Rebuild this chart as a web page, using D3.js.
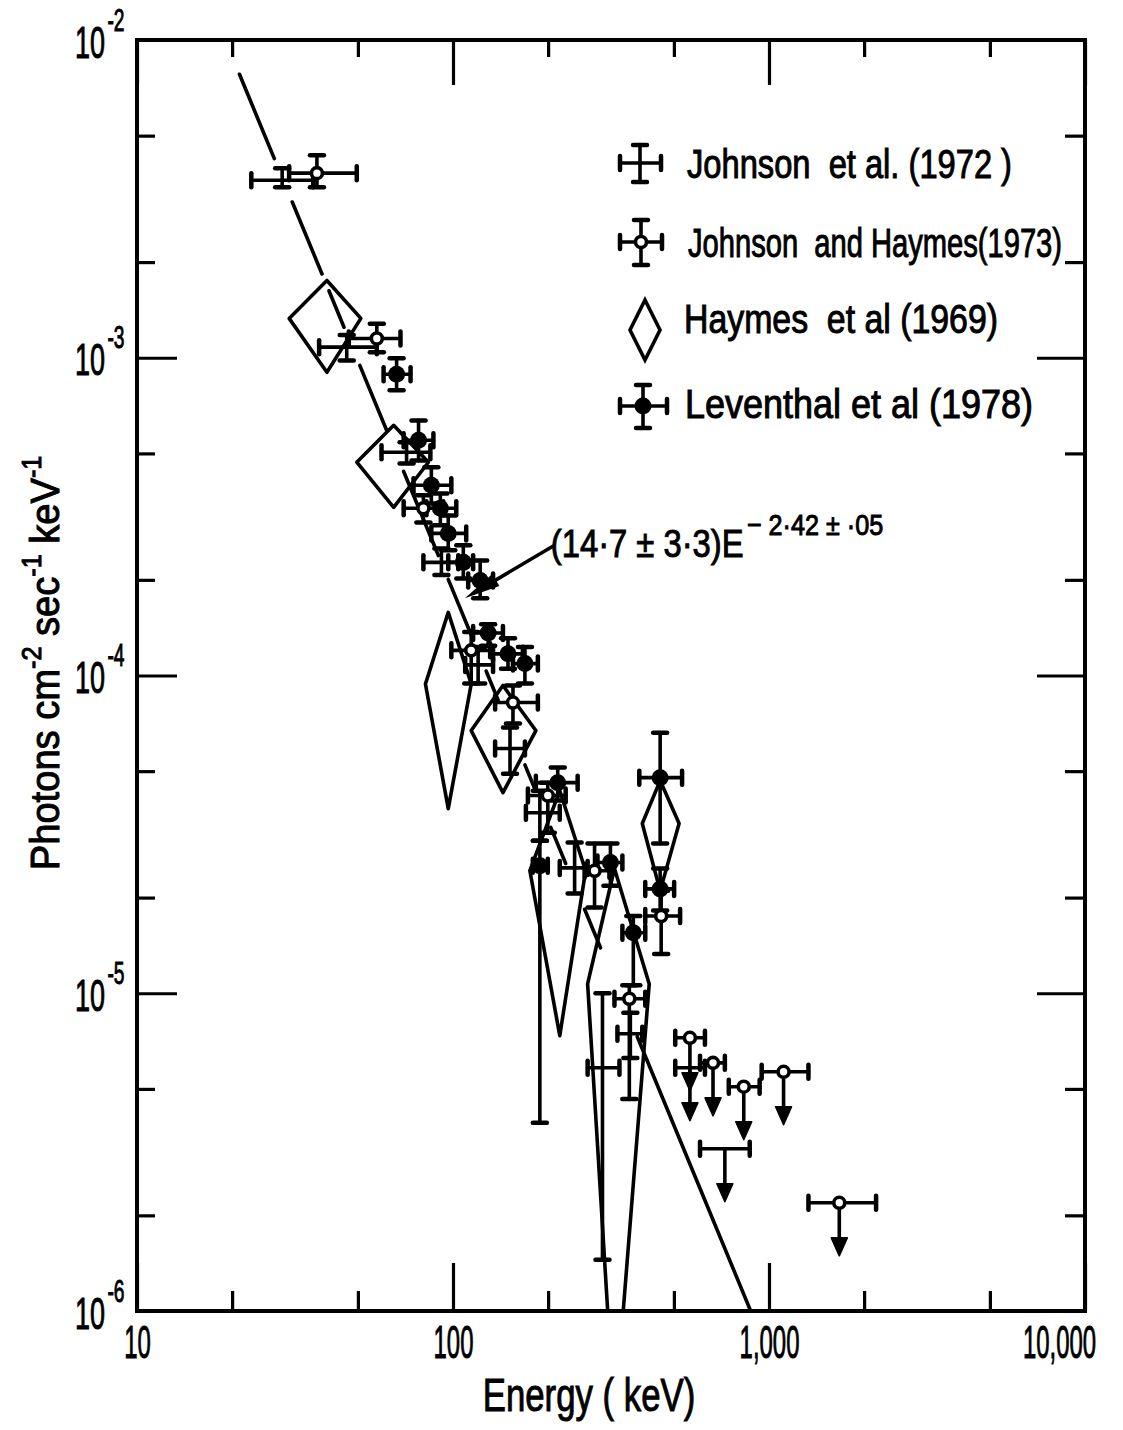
<!DOCTYPE html>
<html>
<head>
<meta charset="utf-8">
<script src="https://cdn.jsdelivr.net/npm/d3@7"></script>
<style>
  body { margin: 0; background: #fff; }
  text { font-family: "Liberation Sans", Arial, sans-serif; fill: #000; stroke: #000; stroke-width: 1px; }
</style>
</head>
<body>
<svg id="chart" width="1123" height="1430"></svg>
<script>
// ---- data (energy in keV, flux in photons cm^-2 s^-1 keV^-1) ----
var johnson72 = [
    {e: 28.8,  eLo: 23.0,  eHi: 36.1,  f: 3.62e-3, fLo: 3.44e-3, fHi: 3.95e-3},
    {e: 46.1,  eLo: 37.7,  eHi: 57.4,  f: 1.08e-3, fLo: 9.8e-4,  fHi: 1.18e-3},
    {e: 71.3,  eLo: 59.4,  eHi: 84.8,  f: 5.04e-4, fLo: 4.65e-4, fHi: 5.42e-4},
    {e: 91.9,  eLo: 80.6,  eHi: 103.9, f: 2.27e-4, fLo: 2.07e-4, fHi: 2.51e-4},
    {e: 120.1, eLo: 109.3, eHi: 133.9, f: 1.08e-4, fLo: 9.44e-5, fHi: 1.23e-4},
    {e: 151.5, eLo: 135.9, eHi: 168.9, f: 5.89e-5, fLo: 4.91e-5, fHi: 6.86e-5},
    {e: 188.3, eLo: 170.1, eHi: 217.7, f: 3.70e-5, fLo: 3.02e-5, fHi: 4.34e-5},
    {e: 242.6, eLo: 217.7, eHi: 266.7, f: 2.48e-5, fLo: 2.06e-5, fHi: 2.98e-5},
    {e: 297.2, eLo: 266.7, eHi: 336.3, f: 5.83e-6, fLo: 1.45e-6, fHi: 1.0e-5},
    {e: 364.1, eLo: 331.4, eHi: 397.2, f: 7.46e-6, fLo: 6.26e-6, fHi: 8.68e-6}
];
var johnson72Limits = [
    {e: 562, eLo: 505, eHi: 627, f: 5.83e-6},
    {e: 725, eLo: 605, eHi: 869, f: 3.24e-6}
];

var johnsonHaymes73 = [
    {e: 37.1,  eLo: 30.3,  eHi: 49.6,  f: 3.81e-3, fLo: 3.44e-3, fHi: 4.34e-3},
    {e: 57.4,  eLo: 46.8,  eHi: 68.2,  f: 1.15e-3, fLo: 1.04e-3, fHi: 1.28e-3},
    {e: 80.6,  eLo: 69.8,  eHi: 93.2,  f: 3.36e-4, fLo: 3.03e-4, fHi: 3.69e-4},
    {e: 114.2, eLo: 98.8,  eHi: 131.1, f: 1.20e-4, fLo: 9.44e-5, fHi: 1.37e-4},
    {e: 154.8, eLo: 135.9, eHi: 185.6, f: 8.22e-5, fLo: 7.06e-5, fHi: 9.30e-5},
    {e: 199.5, eLo: 172.6, eHi: 227.3, f: 4.19e-5, fLo: 3.20e-5, fHi: 4.60e-5},
    {e: 280.5, eLo: 260.9, eHi: 312.6, f: 2.43e-5, fLo: 1.86e-5, fHi: 2.96e-5},
    {e: 361.4, eLo: 324.3, eHi: 405.9, f: 9.61e-6, fLo: 4.65e-6, fHi: 1.06e-5},
    {e: 455.8, eLo: 405.9, eHi: 523.2, f: 1.75e-5, fLo: 1.33e-5, fHi: 2.10e-5}
];
var johnsonHaymes73Limits = [
    {e: 562,  eLo: 505,  eHi: 627,  f: 7.24e-6},
    {e: 665,  eLo: 605,  eHi: 725,  f: 6.04e-6},
    {e: 832,  eLo: 746,  eHi: 934,  f: 5.08e-6},
    {e: 1112, eLo: 948,  eHi: 1333, f: 5.66e-6},
    {e: 1669, eLo: 1333, eHi: 2182, f: 2.19e-6}
];

var haymes69 = [
    {e: 39.9,  eLo: 30.3,  eHi: 51.1,  f: 1.33e-3, fLo: 9.0e-4,  fHi: 1.75e-3},
    {e: 64.9,  eLo: 49.6,  eHi: 83.6,  f: 4.69e-4, fLo: 3.38e-4, fHi: 6.13e-4},
    {e: 96.6,  eLo: 81.8,  eHi: 114.2, f: 9.4e-5,  fLo: 3.81e-5, fHi: 1.58e-4},
    {e: 143.9, eLo: 114.2, eHi: 182.9, f: 6.71e-5, fLo: 4.28e-5, fHi: 9.3e-5},
    {e: 217.7, eLo: 175.1, eHi: 262.8, f: 2.43e-5, fLo: 7.35e-6, fHi: 4.34e-5},
    {e: 324.3, eLo: 266.7, eHi: 417.8, f: 1.07e-5, fLo: 4.5e-7,  fHi: 2.47e-5},
    {e: 452.4, eLo: 397.2, eHi: 519.4, f: 3.42e-5, fLo: 2.10e-5, fHi: 4.67e-5}
];

var leventhal78 = [
    {e: 66.3,  eLo: 60.3,  eHi: 73.4,  f: 8.87e-4, fLo: 7.90e-4, fHi: 9.96e-4},
    {e: 77.8,  eLo: 69.8,  eHi: 86.7,  f: 5.50e-4, fLo: 4.75e-4, fHi: 6.35e-4},
    {e: 85.4,  eLo: 75.0,  eHi: 98.8,  f: 3.97e-4, fLo: 3.48e-4, fHi: 4.52e-4},
    {e: 91.2,  eLo: 82.4,  eHi: 102.4, f: 3.36e-4, fLo: 2.97e-4, fHi: 3.74e-4},
    {e: 96.6,  eLo: 85.4,  eHi: 110.1, f: 2.80e-4, fLo: 2.48e-4, fHi: 3.19e-4},
    {e: 107.8, eLo: 96.6,  eHi: 115.8, f: 2.27e-4, fLo: 2.02e-4, fHi: 2.57e-4},
    {e: 121.9, eLo: 111.7, eHi: 133.9, f: 1.99e-4, fLo: 1.75e-4, fHi: 2.30e-4},
    {e: 129.2, eLo: 115.8, eHi: 143.9, f: 1.36e-4, fLo: 1.24e-4, fHi: 1.45e-4},
    {e: 149.3, eLo: 133.9, eHi: 166.4, f: 1.17e-4, fLo: 1.05e-4, fHi: 1.31e-4},
    {e: 168.9, eLo: 154.8, eHi: 185.6, f: 1.09e-4, fLo: 9.44e-5, fHi: 1.23e-4},
    {e: 214.5, eLo: 182.9, eHi: 248.0, f: 4.60e-5, fLo: 4.04e-5, fHi: 5.13e-5},
    {e: 188.3, eLo: 178.9, eHi: 199.5, f: 2.52e-5, fLo: 3.91e-6, fHi: 3.02e-5},
    {e: 314.9, eLo: 286.6, eHi: 343.6, f: 2.58e-5, fLo: 2.18e-5, fHi: 2.96e-5},
    {e: 372.1, eLo: 343.6, eHi: 405.9, f: 1.55e-5, fLo: 1.06e-5, fHi: 1.75e-5},
    {e: 452.4, eLo: 388.6, eHi: 530.8, f: 4.77e-5, fLo: 2.96e-5, fHi: 6.61e-5},
    {e: 452.4, eLo: 405.9, eHi: 500.9, f: 2.13e-5, fLo: 1.82e-5, fHi: 2.47e-5}
];

// power law fit, drawn as a broken straight line between two end points
var fitLine = [{e: 21.1, f: 7.8e-3}, {e: 875, f: 1.0e-6}];
var fitSegments = [[21.1, 27.2], [31.0, 38.5], [40.5, 45.2], [50.7, 61.6], [69.8, 89.9],
                   [96.6, 114.2], [127.3, 138.9], [168.9, 181.6], [203.9, 227.3],
                   [260.9, 293], [383, 900]];
var fitArrowTip = {e: 109, f: 1.75e-4};

var xMajor = [10, 100, 1000, 10000];
var xTickLabels = ["10", "100", "1,000", "10,000"];
var xMinor = [20, 50, 200, 500, 2000, 5000];
var yMajor = [1e-2, 1e-3, 1e-4, 1e-5, 1e-6];
var yTickExps = ["-2", "-3", "-4", "-5", "-6"];
var yMinor = [2e-6, 5e-6, 2e-5, 5e-5, 2e-4, 5e-4, 2e-3, 5e-3];

// ---- layout ----
var plotL = 137, plotR = 1085, plotT = 40, plotB = 1311;
var x = d3.scaleLog().domain([10, 10000]).range([plotL, plotR]);
var y = d3.scaleLog().domain([1e-6, 1e-2]).range([plotB, plotT]);

var svg = d3.select("#chart");
svg.append("rect").attr("width", 1123).attr("height", 1430).attr("fill", "#fff");
svg.append("defs").append("clipPath").attr("id", "plot").append("rect")
    .attr("x", plotL).attr("y", plotT).attr("width", plotR - plotL).attr("height", plotB - plotT);

function addAxis(axis, tx, ty) {
    var g = svg.append("g").attr("transform", "translate(" + tx + "," + ty + ")").call(axis);
    g.select(".domain").remove();
    g.selectAll(".tick line").attr("stroke", "#000").attr("stroke-width", 3.2);
    return g;
}

// ticks all point inwards
var bottomAxis = addAxis(d3.axisBottom(x).tickValues(xMajor).tickSize(-48).tickPadding(14)
    .tickFormat(function(d, i) { return xTickLabels[i]; }), 0, plotB);
bottomAxis.selectAll("text").attr("font-size", 46)
    .attr("transform", function(d, i) { return i == xMajor.length - 1 ? "translate(-26,0) scale(0.52,1)" : "scale(0.52,1)"; });
addAxis(d3.axisBottom(x).tickValues(xMinor).tickSize(-20).tickFormat(""), 0, plotB);
addAxis(d3.axisTop(x).tickValues(xMajor).tickSize(-45).tickFormat(""), 0, plotT);
addAxis(d3.axisTop(x).tickValues(xMinor).tickSize(-17).tickFormat(""), 0, plotT);

var leftAxis = addAxis(d3.axisLeft(y).tickValues(yMajor).tickSize(-40).tickFormat(""), plotL, 0);
addAxis(d3.axisLeft(y).tickValues(yMinor).tickSize(-18).tickFormat(""), plotL, 0);
addAxis(d3.axisRight(y).tickValues(yMajor).tickSize(-48).tickFormat(""), plotR, 0);
addAxis(d3.axisRight(y).tickValues(yMinor).tickSize(-20).tickFormat(""), plotR, 0);

leftAxis.selectAll(".tick").each(function(d, i) {
    var t = d3.select(this).append("text")
        .attr("transform", "translate(-62,17) scale(0.6,1)")
        .attr("font-size", 45).attr("text-anchor", "start");
    t.append("tspan").text("10");
    t.append("tspan").attr("font-size", 32).attr("dx", 4).attr("dy", -27).text(yTickExps[i]);
});

svg.append("rect").attr("x", plotL).attr("y", plotT)
    .attr("width", plotR - plotL).attr("height", plotB - plotT)
    .attr("fill", "none").attr("stroke", "#000").attr("stroke-width", 4);

var plot = svg.append("g").attr("clip-path", "url(#plot)");

// ---- Haymes et al diamonds ----
function diamondPath(d) {
    return "M" + x(d.eLo) + "," + y(d.f) + "L" + x(d.e) + "," + y(d.fHi) +
           "L" + x(d.eHi) + "," + y(d.f) + "L" + x(d.e) + "," + y(d.fLo) + "Z";
}
plot.selectAll(".diamond").data(haymes69).enter().append("path")
    .attr("class", "diamond")
    .attr("d", diamondPath)
    .attr("fill", "none").attr("stroke", "#000").attr("stroke-width", 3.6)
    .attr("stroke-linejoin", "round");

// ---- fit line ----
var fitLog = d3.scaleLinear()
    .domain(fitLine.map(function(p) { return Math.log10(p.e); }))
    .range(fitLine.map(function(p) { return Math.log10(p.f); }));
function onFit(e) { return [x(e), y(Math.pow(10, fitLog(Math.log10(e))))]; }

plot.selectAll(".fit").data(fitSegments).enter().append("line")
    .attr("class", "fit")
    .attr("x1", function(s) { return onFit(s[0])[0]; })
    .attr("y1", function(s) { return onFit(s[0])[1]; })
    .attr("x2", function(s) { return onFit(s[1])[0]; })
    .attr("y2", function(s) { return onFit(s[1])[1]; })
    .attr("stroke", "#000").attr("stroke-width", 3.6).attr("stroke-linecap", "round");

// ---- error bar markers ----
var CAP = 7;
function crossPx(g, cx, cy, xl, xr, yt, yb) {
    var s = g.append("g").attr("stroke", "#000").attr("stroke-linecap", "round");
    s.append("line").attr("x1", xl).attr("x2", xr).attr("y1", cy).attr("y2", cy).attr("stroke-width", 3.6);
    s.append("line").attr("x1", cx).attr("x2", cx).attr("y1", yt).attr("y2", yb).attr("stroke-width", 3.6);
    s.append("line").attr("x1", xl).attr("x2", xl).attr("y1", cy - CAP).attr("y2", cy + CAP).attr("stroke-width", 4.5);
    s.append("line").attr("x1", xr).attr("x2", xr).attr("y1", cy - CAP).attr("y2", cy + CAP).attr("stroke-width", 4.5);
    s.append("line").attr("x1", cx - CAP).attr("x2", cx + CAP).attr("y1", yt).attr("y2", yt).attr("stroke-width", 4.5);
    s.append("line").attr("x1", cx - CAP).attr("x2", cx + CAP).attr("y1", yb).attr("y2", yb).attr("stroke-width", 4.5);
    return s;
}
function limitPx(g, cx, cy, xl, xr) {
    var s = g.append("g").attr("stroke", "#000").attr("stroke-linecap", "round");
    s.append("line").attr("x1", xl).attr("x2", xr).attr("y1", cy).attr("y2", cy).attr("stroke-width", 3.6);
    s.append("line").attr("x1", xl).attr("x2", xl).attr("y1", cy - CAP).attr("y2", cy + CAP).attr("stroke-width", 4.5);
    s.append("line").attr("x1", xr).attr("x2", xr).attr("y1", cy - CAP).attr("y2", cy + CAP).attr("stroke-width", 4.5);
    s.append("line").attr("x1", cx).attr("x2", cx).attr("y1", cy).attr("y2", cy + 38).attr("stroke-width", 3.6);
    s.append("path").attr("d", "M" + (cx - 8) + "," + (cy + 35) + "L" + (cx + 8) + "," + (cy + 35) +
        "L" + cx + "," + (cy + 53) + "Z").attr("fill", "#000").attr("stroke-width", 1.5)
        .attr("stroke-linejoin", "round");
    return s;
}
function openDot(g, cx, cy) {
    g.append("circle").attr("cx", cx).attr("cy", cy).attr("r", 5.5)
        .attr("fill", "#fff").attr("stroke", "#000").attr("stroke-width", 3.6);
}
function filledDot(g, cx, cy) {
    g.append("circle").attr("cx", cx).attr("cy", cy).attr("r", 8.5).attr("fill", "#000");
}
function crossData(g, d) {
    return crossPx(g, x(d.e), y(d.f), x(d.eLo), x(d.eHi), y(d.fHi), y(d.fLo));
}

var marks = svg.append("g");
johnson72.forEach(function(d) { crossData(marks, d); });
johnson72Limits.forEach(function(d) { limitPx(marks, x(d.e), y(d.f), x(d.eLo), x(d.eHi)); });
leventhal78.forEach(function(d) { crossData(marks, d); filledDot(marks, x(d.e), y(d.f)); });
johnsonHaymes73.forEach(function(d) { crossData(marks, d); openDot(marks, x(d.e), y(d.f)); });
johnsonHaymes73Limits.forEach(function(d) {
    limitPx(marks, x(d.e), y(d.f), x(d.eLo), x(d.eHi));
    openDot(marks, x(d.e), y(d.f));
});

// ---- fit annotation with arrow ----
var tip = [x(fitArrowTip.e), y(fitArrowTip.f)];
var tail = [tip[0] + 88, tip[1] - 52];
var len = Math.hypot(tail[0] - tip[0], tail[1] - tip[1]);
var ux = (tail[0] - tip[0]) / len, uy = (tail[1] - tip[1]) / len;
svg.append("line").attr("x1", tail[0]).attr("y1", tail[1]).attr("x2", tip[0] + ux * 20).attr("y2", tip[1] + uy * 20)
    .attr("stroke", "#000").attr("stroke-width", 3.6).attr("stroke-linecap", "round");
svg.append("path")
    .attr("d", "M" + tip[0] + "," + tip[1] +
               "L" + (tip[0] + ux * 36 - uy * 7) + "," + (tip[1] + uy * 36 + ux * 7) +
               "L" + (tip[0] + ux * 36 + uy * 7) + "," + (tip[1] + uy * 36 - ux * 7) + "Z")
    .attr("fill", "#000");

var fitText = svg.append("text")
    .attr("transform", "translate(" + (tail[0] - 2) + "," + (tail[1] + 11) + ") scale(0.84,1)")
    .attr("font-size", 39);
fitText.append("tspan").text("(14\u00b77 \u00b1 3\u00b73)E");
fitText.append("tspan").attr("font-size", 30).attr("dx", 4).attr("dy", -22).text("\u2212 2\u00b742 \u00b1 \u00b705");

// ---- legend ----
var legend = svg.append("g");
crossPx(legend, 640, 163, 620, 661, 145, 182);
crossPx(legend, 641, 242, 620, 662, 220, 265); openDot(legend, 641, 242);
legend.append("path").attr("d", "M630,330L645,300L660,330L645,360Z")
    .attr("fill", "none").attr("stroke", "#000").attr("stroke-width", 3.6);
crossPx(legend, 643, 406, 620, 667, 385, 428); filledDot(legend, 643, 406);

var legendRows = [
    {text: "Johnson  et al. (1972 )", x: 687, y: 178, w: 325},
    {text: "Johnson  and Haymes(1973)", x: 688, y: 257, w: 374},
    {text: "Haymes  et al (1969)", x: 684, y: 333, w: 314},
    {text: "Leventhal et al (1978)", x: 685, y: 418, w: 348}
];
legend.selectAll(".lab").data(legendRows).enter().append("text")
    .attr("class", "lab")
    .attr("x", function(d) { return d.x; })
    .attr("y", function(d) { return d.y; })
    .attr("font-size", 40)
    .attr("xml:space", "preserve")
    .attr("textLength", function(d) { return d.w; })
    .attr("lengthAdjust", "spacingAndGlyphs")
    .text(function(d) { return d.text; });

// ---- axis titles ----
svg.append("text")
    .attr("transform", "translate(589,1411) scale(0.74,1)")
    .attr("text-anchor", "middle").attr("font-size", 47)
    .text("Energy ( keV)");

var yTitle = svg.append("text")
    .attr("transform", "translate(59,663) rotate(-90) scale(0.93,1)")
    .attr("text-anchor", "middle").attr("font-size", 41);
yTitle.append("tspan").text("Photons cm");
yTitle.append("tspan").attr("font-size", 27).attr("dy", -18).text("-2");
yTitle.append("tspan").attr("dy", 18).text(" sec");
yTitle.append("tspan").attr("font-size", 27).attr("dy", -18).text("-1");
yTitle.append("tspan").attr("dy", 18).text(" keV");
yTitle.append("tspan").attr("font-size", 27).attr("dy", -18).text("-1");
</script>
</body>
</html>
